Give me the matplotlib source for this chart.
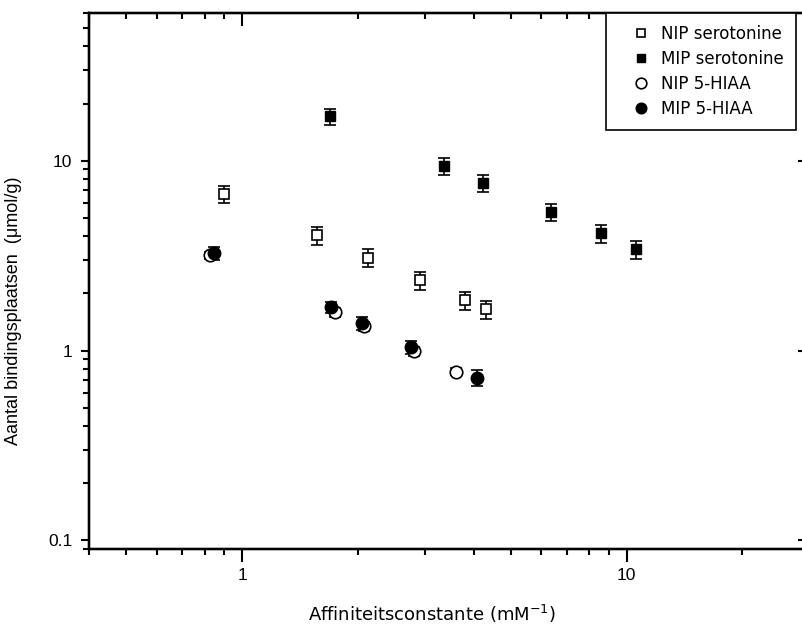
import matplotlib
matplotlib.use('Agg')
import matplotlib.pyplot as plt
from matplotlib.ticker import LogLocator, NullFormatter

# NIP / MIP serotonine
nip_ser_x = [0.90, 1.57, 2.13, 2.91, 3.79, 4.32]
nip_ser_y = [6.65, 4.04, 3.09, 2.34, 1.84, 1.65]
nip_ser_err = [0.68, 0.44, 0.33, 0.25, 0.20, 0.18]
mip_ser_x = [1.69, 3.36, 4.24, 6.38, 8.56, 10.6]
mip_ser_y = [17.1, 9.34, 7.60, 5.35, 4.14, 3.41]
mip_ser_err = [1.7, 0.95, 0.80, 0.55, 0.45, 0.36]

# NIP / MIP 5-HIAA
nip_hiaa_x = [0.825, 1.74, 2.07, 2.80, 3.61]
nip_hiaa_y = [3.17, 1.59, 1.34, 0.99, 0.775]
nip_hiaa_err = [0.15, 0.08, 0.07, 0.05, 0.03]
mip_hiaa_x = [0.846, 1.70, 2.05, 2.75, 4.09]
mip_hiaa_y = [3.25, 1.69, 1.39, 1.04, 0.72]
mip_hiaa_err = [0.25, 0.12, 0.11, 0.08, 0.07]

labels = ['NIP serotonine', 'MIP serotonine', 'NIP 5-HIAA', 'MIP 5-HIAA']
xlim = (0.4, 30)
ylim = (0.09, 60)

fig = plt.figure(figsize=(8.02, 6.31), dpi=100)
ax = fig.add_axes([89/802, 82/631, 721/802, 536/631])

eb = dict(ecolor='black', elinewidth=1.2, capsize=4.2, capthick=1.2, linestyle='none')
h1 = ax.errorbar(nip_ser_x, nip_ser_y, yerr=nip_ser_err, marker='s', ms=6.5,
                 mfc='white', mec='black', mew=1.2, **eb)
h2 = ax.errorbar(mip_ser_x, mip_ser_y, yerr=mip_ser_err, marker='s', ms=7,
                 mfc='black', mec='black', **eb)
h3 = ax.errorbar(nip_hiaa_x, nip_hiaa_y, yerr=nip_hiaa_err, marker='o', ms=9,
                 mfc='white', mec='black', mew=1.2, **eb)
h4 = ax.errorbar(mip_hiaa_x, mip_hiaa_y, yerr=mip_hiaa_err, marker='o', ms=9,
                 mfc='black', mec='black', **eb)

ax.set_xscale('log')
ax.set_yscale('log')
ax.set_xlim(*xlim)
ax.set_ylim(*ylim)
ax.set_xticks([1, 10], ['1', '10'])
ax.set_yticks([0.1, 1, 10], ['0.1', '1', '10'])
ax.xaxis.set_minor_locator(LogLocator(base=10, subs=range(2, 10)))
ax.yaxis.set_minor_locator(LogLocator(base=10, subs=range(2, 10)))
ax.xaxis.set_minor_formatter(NullFormatter())
ax.yaxis.set_minor_formatter(NullFormatter())
for lab in ax.get_xticklabels() + ax.get_yticklabels():
    lab.set_family('Liberation Sans')
    lab.set_fontsize(12.5)
ax.tick_params(axis='x', which='major', direction='out', length=9, width=1.5, pad=5)
ax.tick_params(axis='x', which='minor', direction='out', length=4, width=1.5)
ax.tick_params(axis='y', which='major', direction='out', length=6, width=1.5, pad=6)
ax.tick_params(axis='y', which='minor', direction='out', length=4, width=1.5)
for s in ax.spines.values():
    s.set_linewidth(1.6)

ax.set_xlabel('Affiniteitsconstante (mM$^{-1}$)', family='DejaVu Sans', fontsize=13)
ax.xaxis.label.set_va('center')
ax.xaxis.set_label_coords((432 - 89) / 721, -(614 - 549) / 536)
ax.set_ylabel('Aantal bindingsplaatsen  (\u03bcmol/g)', family='Liberation Sans', fontsize=13)
ax.yaxis.set_label_coords(-(89 - 22) / 721, (549 - 311) / 536)

# top and right axes with inward ticks
axt = ax.twiny()
axt.set_xscale('log')
axt.set_xlim(*xlim)
axt.set_xticks([1, 10], ['', ''])
axt.xaxis.set_minor_locator(LogLocator(base=10, subs=range(2, 10)))
axt.xaxis.set_minor_formatter(NullFormatter())
axt.tick_params(axis='x', which='major', direction='in', length=9, width=1.5)
axt.tick_params(axis='x', which='minor', direction='in', length=4, width=1.5)

axr = ax.twinx()
axr.set_yscale('log')
axr.set_ylim(*ylim)
axr.set_yticks([0.1, 1, 10], ['', '', ''])
axr.yaxis.set_minor_locator(LogLocator(base=10, subs=range(2, 10)))
axr.yaxis.set_minor_formatter(NullFormatter())
axr.tick_params(axis='y', which='major', direction='in', length=9, width=1.5)
axr.tick_params(axis='y', which='minor', direction='in', length=4, width=1.5)
for a in (axt, axr):
    for s in a.spines.values():
        s.set_linewidth(1.6)

# legend shows markers only
handles = [h[0] for h in (h1, h2, h3, h4)]
leg = axr.legend(handles, labels, loc='upper left',
                 bbox_to_anchor=((606 - 89) / 721, 1.0), borderaxespad=0,
                 frameon=True, fancybox=False, edgecolor='black', framealpha=1,
                 prop={'family': 'DejaVu Sans', 'size': 12},
                 handlelength=2.8, handletextpad=-0.2, labelspacing=0.42,
                 borderpad=0.72, markerscale=0.85, numpoints=1)
leg.get_frame().set_linewidth(1.2)

fig.savefig('out.png', dpi=100)
